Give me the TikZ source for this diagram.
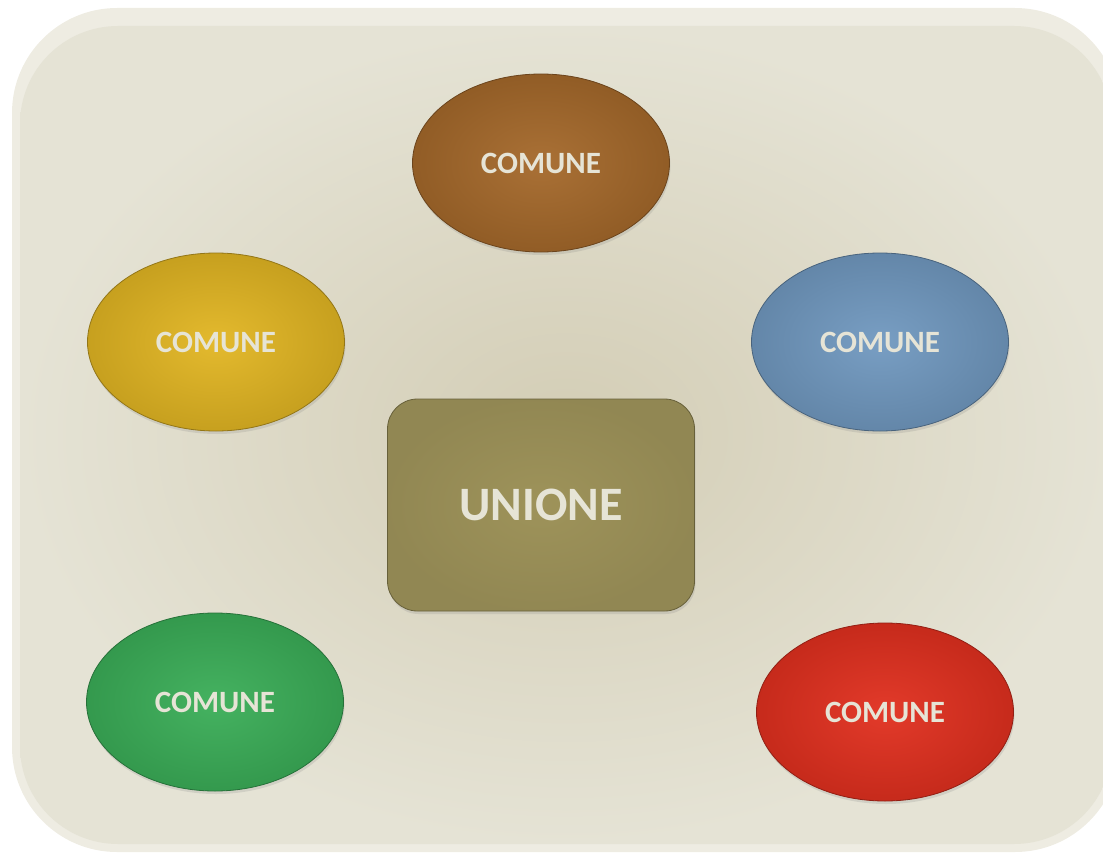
\documentclass[tikz,border=0pt]{standalone}
\usepackage{fontspec}
\setmainfont{Carlito}
\usetikzlibrary{shapes.geometric,shadows}
\definecolor{rim}{HTML}{EEECE2}
\definecolor{bgout}{HTML}{E5E3D5}
\definecolor{bgin}{HTML}{D3CDB5}
\definecolor{txt}{HTML}{E6E4D6}
\definecolor{cbrown}{HTML}{A5692B}
\definecolor{cyellow}{HTML}{E2B623}
\definecolor{cblue}{HTML}{7199C0}
\definecolor{cgreen}{HTML}{3BAE58}
\definecolor{cred}{HTML}{E1301F}
\definecolor{cunion}{HTML}{9E935A}
\tikzset{
  comune/.style={ellipse, minimum width=257pt, minimum height=178pt, inner sep=0pt,
    shade, inner color=#1!95!white, outer color=#1!88!black, draw=#1!65!black, line width=0.8pt,
    drop shadow={shadow xshift=1pt, shadow yshift=-3pt, opacity=0.2},
    text=txt, font=\bfseries\fontsize{31}{36}\selectfont},
  unione/.style={rectangle, rounded corners=30pt, minimum width=307pt, minimum height=212pt,
    inner sep=0pt, shade, inner color=cunion, outer color=cunion!92!black,
    draw=cunion!65!black, line width=0.8pt,
    drop shadow={shadow xshift=1pt, shadow yshift=-3pt, opacity=0.2},
    text=txt, font=\bfseries\fontsize{48}{54}\selectfont}
}
\begin{document}
\begin{tikzpicture}[x=1pt,y=-1pt]
\useasboundingbox (0,0) rectangle (1103,856);
\fill[rim, rounded corners=105pt] (12,8) rectangle (1120,852);
\shade[rounded corners=98pt, inner color=bgin, outer color=bgout] (20,26) rectangle (1112,844);
\node[comune=cbrown] (c1) at (541,163) {COMUNE};
\node[comune=cyellow] (c2) at (216,342) {COMUNE};
\node[comune=cblue] (c3) at (880,342) {COMUNE};
\node[comune=cgreen] (c4) at (215,702) {COMUNE};
\node[comune=cred] (c5) at (885,712) {COMUNE};
\node[unione] (u) at (541,505) {UNIONE};
\end{tikzpicture}
\end{document}
